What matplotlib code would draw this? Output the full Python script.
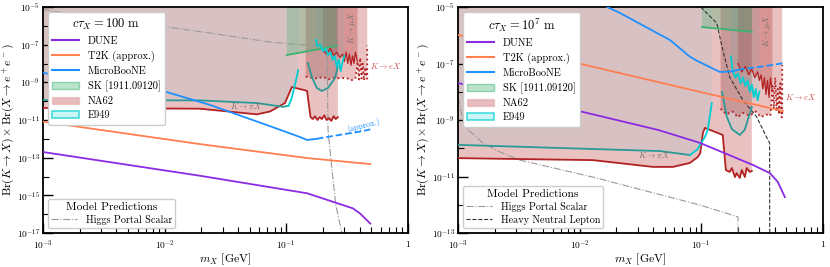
import numpy as np
import matplotlib
matplotlib.use("Agg")
import matplotlib.pyplot as plt
from matplotlib.patches import Patch
from matplotlib.lines import Line2D
from matplotlib.ticker import FixedLocator, NullFormatter

plt.rcParams['font.family'] = 'serif'
plt.rcParams['font.serif'] = ['cmr10', 'DejaVu Serif']
plt.rcParams['mathtext.fontset'] = 'cm'
plt.rcParams['axes.unicode_minus'] = False
plt.rcParams['axes.formatter.use_mathtext'] = True

# ---------------- data (masses in GeV, bounds as log10 of Br x Br) ----------------
# shared mass grids
sk_m = [0.101, 0.26]
kmu_m = [0.2, 0.215, 0.23, 0.245, 0.26, 0.275, 0.29, 0.30, 0.31, 0.32, 0.33, 0.34, 0.35, 0.36, 0.37, 0.384]
ke_m = [0.144, 0.16, 0.18, 0.2, 0.22, 0.25, 0.28, 0.31, 0.34, 0.37, 0.385, 0.395, 0.405,
        0.415, 0.425, 0.435, 0.445, 0.455, 0.462, 0.462]
e949_mu_m = [0.175, 0.18, 0.19, 0.20, 0.21, 0.22, 0.23, 0.24, 0.25, 0.26, 0.27, 0.28, 0.29, 0.30]

# c tau = 100 m
dune_m_a = [1e-3, 0.0195, 0.148, 0.352, 0.403, 0.49]
dune_lg_a = [-12.70, -13.96, -14.89, -15.69, -15.96, -16.5]
t2k_m_a = [1e-3, 0.0195, 0.148, 0.49]
t2k_lg_a = [-11.09, -12.28, -13.02, -13.34]
ub_m_a = [1e-3, 0.008, 0.0236, 0.0364, 0.0693, 0.129, 0.148, 0.178]
ub_lg_a = [-8.5, -9.3, -10.2, -10.63, -11.27, -11.9, -12.06, -12.0]
ub_dash_m_a = [0.178, 0.216, 0.3, 0.4, 0.49]
ub_dash_lg_a = [-12.0, -11.9, -11.75, -11.62, -11.5]
higgs_m_a = [1e-3, 8e-3, 0.0236, 0.0733, 0.216, 0.218, 0.22, 0.236, 0.255, 0.286]
higgs_lg_a = [-5.14, -5.96, -6.38, -6.86, -7.12, -9.0, -11.5, -13.5, -15.5, -17.0]
sk_lg_a = [-7.55, -7.07]
pi_m_a = [1e-3, 0.0195, 0.0573, 0.0733, 0.0974, 0.111, 0.148, 0.158, 0.165, 0.172, 0.18, 0.188,
          0.196, 0.205, 0.214, 0.224, 0.234, 0.245, 0.255, 0.265]
pi_lg_a = [-10.36, -10.40, -10.70, -10.55, -10.10, -9.25, -9.45, -10.84, -10.95, -10.80, -11.0, -10.85,
           -10.95, -10.75, -11.0, -10.9, -11.05, -10.8, -10.95, -10.85]
e949_pi_m_a = [1e-3, 0.0195, 0.0573, 0.0938, 0.104, 0.11, 0.117, 0.122, 0.125]
e949_pi_lg_a = [-9.94, -9.96, -10.1, -10.3, -10.25, -9.9, -9.2, -8.7, -8.35]
e949_u_m_a = [0.150, 0.162, 0.178, 0.196, 0.22, 0.251, 0.265]
e949_u_lg_a = [-7.97, -8.72, -9.30, -9.46, -9.30, -8.77, -8.19]
e949_mu_lg_a = [-6.75, -7.1, -7.0, -7.35, -7.2, -7.55, -7.4, -7.8, -7.6, -8.2, -7.8, -8.4, -7.9, -7.6]
kmu_lg_a = [-7.3, -7.5, -7.2, -7.6, -7.4, -7.7, -7.5, -7.9, -7.4, -8.0, -7.5, -8.1, -7.6, -8.0, -7.4, -7.9]
ke_lg_a = [-8.7, -8.75, -8.8, -8.7, -8.85, -8.75, -8.8, -8.75, -8.9, -8.8, -7.9, -8.85, -7.7,
           -8.8, -8.0, -8.9, -8.2, -8.8, -8.8, -7.05]

# c tau = 1e7 m
dune_m_b = [1e-3, 7.86e-3, 0.044, 0.0974, 0.265, 0.366, 0.425, 0.486]
dune_lg_b = [-7.69, -8.58, -9.35, -9.81, -10.59, -10.88, -11.19, -11.73]
t2k_m_b = [1e-3, 0.0214, 0.142, 0.468]
t2k_lg_b = [-5.99, -7.34, -8.17, -8.68]
ub_m_b = [0.015, 0.0214, 0.0553, 0.08, 0.0917, 0.142, 0.181, 0.2]
ub_lg_b = [-4.9, -5.21, -6.17, -6.75, -6.9, -7.30, -7.28, -7.22]
ub_dash_m_b = [0.2, 0.3, 0.4, 0.486]
ub_dash_lg_b = [-7.22, -7.12, -7.04, -6.98]
higgs_m_b = [1e-3, 1.1e-3, 1.21e-3, 1.6e-3, 2.21e-3, 3.23e-3, 0.0128, 0.0214, 0.0974, 0.2, 0.2]
higgs_lg_b = [-8.2, -9.0, -9.35, -9.81, -10.13, -10.42, -11.02, -11.27, -12.01, -12.43, -13.2]
hnl_m_b = [0.095, 0.101, 0.134, 0.15, 0.171, 0.219, 0.285, 0.343, 0.364, 0.365]
hnl_lg_b = [-4.8, -5.04, -5.57, -6.52, -7.48, -8.29, -8.89, -9.60, -9.81, -13.2]
sk_lg_b = [-5.71, -5.88]
pi_m_b = [1e-3, 0.0128, 0.040, 0.0585, 0.0806, 0.0935, 0.098, 0.103, 0.107, 0.150, 0.159, 0.171,
          0.178, 0.189, 0.195, 0.207, 0.215, 0.228, 0.236, 0.25, 0.26]
pi_lg_b = [-10.35, -10.42, -10.66, -10.66, -10.52, -10.31, -10.17, -9.46, -9.28, -9.53, -10.77, -10.84,
           -10.70, -11.02, -10.88, -11.05, -10.77, -11.02, -10.70, -10.84, -10.8]
e949_pi_m_b = [1e-3, 0.0457, 0.0806, 0.092, 0.107, 0.113, 0.122]
e949_pi_lg_b = [-9.88, -10.10, -10.24, -10.06, -9.60, -9.35, -8.40]
e949_u_m_b = [0.148, 0.162, 0.178, 0.207, 0.227, 0.241, 0.26]
e949_u_lg_b = [-8.01, -8.89, -9.32, -9.53, -9.35, -9.0, -8.54]
e949_mu_lg_b = [-6.75, -7.2, -7.5, -7.35, -7.7, -7.5, -7.8, -7.6, -8.0, -7.75, -8.2, -7.9, -8.3, -8.0]
kmu_lg_b = [-7.0, -7.3, -7.1, -7.4, -7.2, -7.5, -7.3, -7.6, -7.4, -7.9, -7.5, -8.1, -7.6, -8.2, -7.5, -8.0]
ke_lg_b = [-8.6, -8.8, -8.7, -8.9, -8.75, -8.85, -8.7, -8.9, -8.8, -8.85, -7.8, -8.6, -7.5,
           -8.7, -7.9, -8.8, -7.7, -8.9, -8.9, -7.05]

# ---------------- styles ----------------
DUNE_C = '#8a2be2'
T2K_C = '#ff7f50'
UB_C = '#1e90ff'
SK_C = '#3cb371'
NA62_C = '#b22222'
E949_C = '#00ced1'
TEAL = '#2a9a96'
TOP = 1.0


def br(lg):
    return 10.0 ** np.asarray(lg)


def fill_above(ax, m, lg, color, alpha):
    ax.fill_between(m, br(lg), TOP, facecolor=color, alpha=alpha, lw=0, zorder=1)


def draw(ax, p, ylo, title, with_hnl):
    # excluded regions
    fill_above(ax, p['pi_m'], p['pi_lg'], NA62_C, 0.28)
    fill_above(ax, ke_m, p['ke_lg'], NA62_C, 0.28)
    fill_above(ax, kmu_m, p['kmu_lg'], NA62_C, 0.28)
    fill_above(ax, p['e_pi_m'], p['e_pi_lg'], E949_C, 0.07)
    fill_above(ax, p['e_u_m'], p['e_u_lg'], E949_C, 0.07)
    fill_above(ax, e949_mu_m, p['e_mu_lg'], E949_C, 0.07)
    fill_above(ax, sk_m, p['sk_lg'], SK_C, 0.3)

    ax.plot(sk_m, br(p['sk_lg']), color=SK_C, lw=1.3, zorder=3)
    ax.plot(p['pi_m'], br(p['pi_lg']), color=NA62_C, lw=1.3, zorder=3)
    ax.plot(ke_m, br(p['ke_lg']), color=NA62_C, lw=1.3, ls=':', zorder=3)
    ax.plot(kmu_m, br(p['kmu_lg']), color=NA62_C, lw=0.9, zorder=3)
    ax.plot(p['e_pi_m'][:-4], br(p['e_pi_lg'][:-4]), color=TEAL, lw=1.3, zorder=3)
    ax.plot(p['e_pi_m'][-5:], br(p['e_pi_lg'][-5:]), color=E949_C, lw=1.3, zorder=3)
    ax.plot(p['e_u_m'], br(p['e_u_lg']), color=TEAL, lw=1.3, zorder=3)
    ax.plot(e949_mu_m, br(p['e_mu_lg']), color=E949_C, lw=1.3, zorder=3)

    # experiments
    ax.plot(p['dune_m'], br(p['dune_lg']), color=DUNE_C, lw=1.3, zorder=4)
    ax.plot(p['t2k_m'], br(p['t2k_lg']), color=T2K_C, lw=1.3, zorder=4)
    ax.plot(p['ub_m'], br(p['ub_lg']), color=UB_C, lw=1.3, zorder=4)
    ax.plot(p['ubd_m'], br(p['ubd_lg']), color=UB_C, lw=1.3, ls='--', zorder=4)

    # models
    ax.plot(p['higgs_m'], br(p['higgs_lg']), color='0.6', lw=0.8, ls='-.', zorder=2)
    if with_hnl:
        ax.plot(hnl_m_b, br(hnl_lg_b), color='0.2', lw=0.8, ls='--', zorder=2)

    ax.set_xscale('log')
    ax.set_yscale('log')
    ax.set_xlim(1e-3, 1)
    ax.set_ylim(10.0 ** ylo, 1e-5)

    ax.set_xticks([1e-3, 1e-2, 1e-1, 1])
    ax.set_xticklabels(['$10^{-3}$', '$10^{-2}$', '$10^{-1}$', '$1$'])
    exps = list(range(-5, ylo - 1, -1))
    ax.set_yticks([10.0 ** e for e in exps if e % 2])
    ax.set_yticklabels(['$10^{%d}$' % e for e in exps if e % 2])
    ax.yaxis.set_minor_locator(FixedLocator([10.0 ** e for e in exps if e % 2 == 0]))
    ax.yaxis.set_minor_formatter(NullFormatter())
    ax.tick_params(which='major', direction='in', length=7.5, width=1.0, labelsize=6.8)
    ax.tick_params(which='minor', direction='in', length=4, width=0.8)
    ax.tick_params(axis='x', which='major', pad=4)
    ax.tick_params(axis='y', which='major', pad=2)
    for s in ax.spines.values():
        s.set_linewidth(1.3)

    ax.set_xlabel('$m_X$ [GeV]', fontsize=8.5, labelpad=0)
    ax.set_ylabel(r'$\mathrm{Br}(K\to X)\times\mathrm{Br}(X\to e^+e^-)$', fontsize=8.5)
    ax.yaxis.set_label_coords(-0.07, 0.5)

    ax.text(p['kpi'][0], 10.0 ** p['kpi'][1], r'$K\to\pi X$', fontsize=6, color='0.45',
            ha='center', va='center', zorder=5)
    ax.text(0.346, 10.0 ** p['kmu'], r'$K\to\mu X$', fontsize=6, color='0.45',
            rotation=90, ha='center', va='center', zorder=5)
    ax.text(0.49, 10.0 ** p['ke'], r'$K\to eX$', fontsize=6, color='#c8504f',
            ha='left', va='center', zorder=5)

    handles = [Line2D([], [], color=DUNE_C, lw=1.5), Line2D([], [], color=T2K_C, lw=1.5),
               Line2D([], [], color=UB_C, lw=1.5),
               Patch(facecolor=(0.235, 0.702, 0.443, 0.35), edgecolor=(0.235, 0.702, 0.443, 0.5)),
               Patch(facecolor=(0.698, 0.133, 0.133, 0.3), edgecolor=(0.698, 0.133, 0.133, 0.15)),
               Patch(facecolor=(0.0, 0.81, 0.82, 0.2), edgecolor=(0.0, 0.81, 0.82, 0.7), lw=1.2)]
    labels = ['DUNE', 'T2K (approx.)', 'MicroBooNE', 'SK [1911.09120]', 'NA62', 'E949']
    leg = ax.legend(handles, labels, title=title, loc='upper left', fontsize=7.5,
                    title_fontsize=9, framealpha=1, handlelength=2.6, labelspacing=0.45,
                    borderpad=0.4)
    leg.set_zorder(10)

    mh = [Line2D([], [], color='0.6', lw=0.8, ls='-.')]
    ml = ['Higgs Portal Scalar']
    if with_hnl:
        mh.append(Line2D([], [], color='0.2', lw=0.8, ls='--'))
        ml.append('Heavy Neutral Lepton')
    leg2 = ax.legend(mh, ml, title='Model Predictions', loc='lower left', fontsize=7.3,
                     title_fontsize=8.3, framealpha=1, handlelength=2.6, labelspacing=0.3,
                     borderpad=0.3)
    leg2.set_zorder(10)
    ax.add_artist(leg)


panel_a = dict(dune_m=dune_m_a, dune_lg=dune_lg_a, t2k_m=t2k_m_a, t2k_lg=t2k_lg_a,
               ub_m=ub_m_a, ub_lg=ub_lg_a, ubd_m=ub_dash_m_a, ubd_lg=ub_dash_lg_a,
               higgs_m=higgs_m_a, higgs_lg=higgs_lg_a, sk_lg=sk_lg_a,
               pi_m=pi_m_a, pi_lg=pi_lg_a, e_pi_m=e949_pi_m_a, e_pi_lg=e949_pi_lg_a,
               e_u_m=e949_u_m_a, e_u_lg=e949_u_lg_a, e_mu_lg=e949_mu_lg_a,
               kmu_lg=kmu_lg_a, ke_lg=ke_lg_a, kpi=(0.0466, -10.28), kmu=-6.1, ke=-8.15)
panel_b = dict(dune_m=dune_m_b, dune_lg=dune_lg_b, t2k_m=t2k_m_b, t2k_lg=t2k_lg_b,
               ub_m=ub_m_b, ub_lg=ub_lg_b, ubd_m=ub_dash_m_b, ubd_lg=ub_dash_lg_b,
               higgs_m=higgs_m_b, higgs_lg=higgs_lg_b, sk_lg=sk_lg_b,
               pi_m=pi_m_b, pi_lg=pi_lg_b, e_pi_m=e949_pi_m_b, e_pi_lg=e949_pi_lg_b,
               e_u_m=e949_u_m_b, e_u_lg=e949_u_lg_b, e_mu_lg=e949_mu_lg_b,
               kmu_lg=kmu_lg_b, ke_lg=ke_lg_b, kpi=(0.041, -10.25), kmu=-5.85, ke=-8.2)

fig = plt.figure(figsize=(8.3, 2.67), dpi=100)
ax1 = fig.add_axes([43 / 830, 34 / 267, 365 / 830, 226 / 267])
ax2 = fig.add_axes([458 / 830, 34 / 267, 365 / 830, 226 / 267])

draw(ax1, panel_a, -17, r'$c\tau_X = 100$ m', False)
draw(ax2, panel_b, -13, r'$c\tau_X = 10^7$ m', True)

ax1.text(0.43, 10.0 ** -11.32, '(approx.)', fontsize=6, color=UB_C, rotation=14,
         ha='center', va='center', zorder=5)

fig.savefig('out.png', dpi=100)
